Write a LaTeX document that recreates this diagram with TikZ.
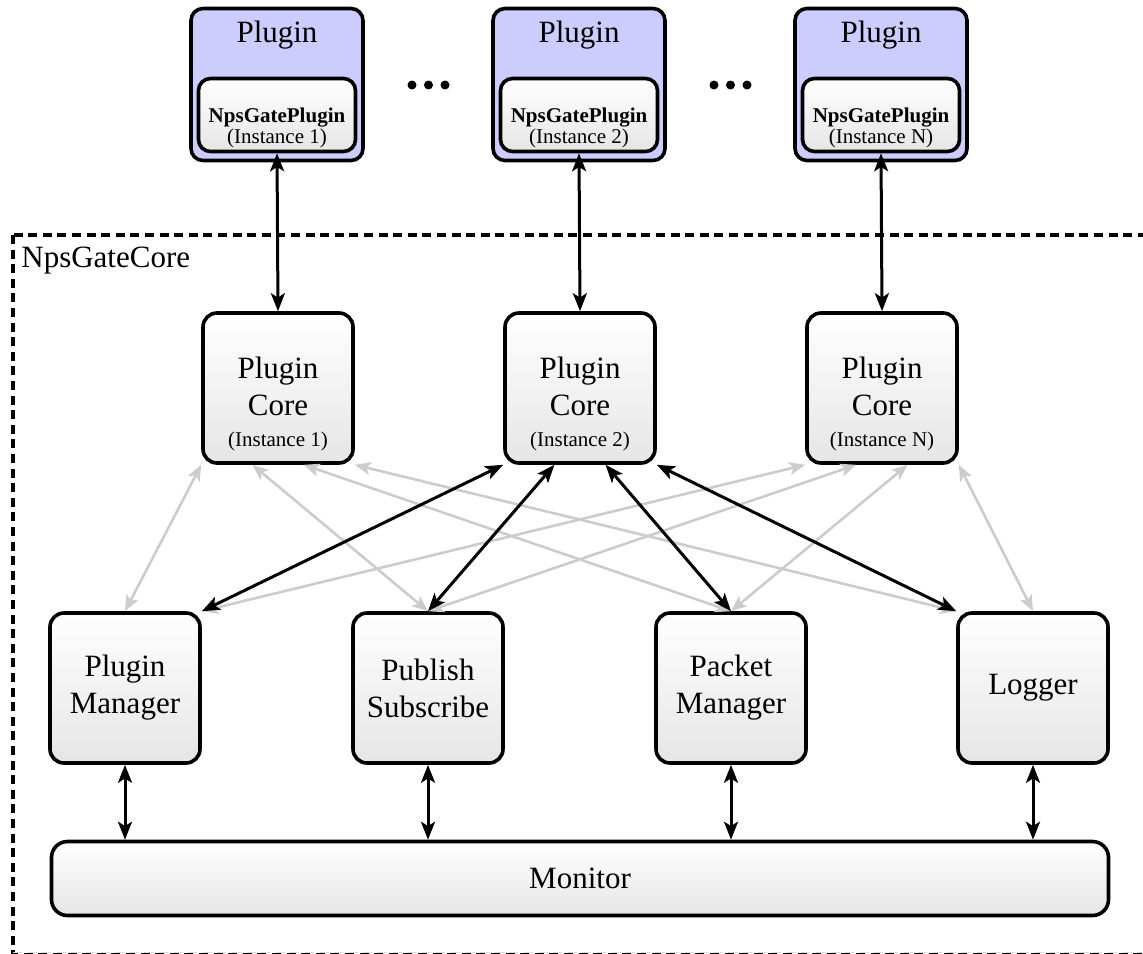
\documentclass[tikz,border=0pt]{standalone}
\usepackage{fontspec}
\setmainfont{Liberation Serif}
\usetikzlibrary{arrows.meta,calc}
\newcommand\mysizeA{\fontsize{15.5}{18.5}\selectfont}
\newcommand\mysizeB{\fontsize{10.5}{12.6}\selectfont}
\begin{document}
\begin{tikzpicture}[x=0.5pt,y=-0.5pt,
  box/.style={draw,line width=1.8pt,rounded corners=7pt,top color=white,bottom color=black!10,
    minimum width=75pt,minimum height=75pt,inner sep=0pt,align=center,font=\mysizeA},
  plugbox/.style={draw,line width=1.8pt,rounded corners=6pt,fill=blue!20,
    minimum width=86pt,minimum height=76pt,inner sep=0pt},
  innerbox/.style={draw,line width=1.8pt,rounded corners=6pt,top color=white,bottom color=black!10,
    minimum width=78.5pt,minimum height=36.5pt,inner sep=0pt},
  monbox/.style={draw,line width=1.8pt,rounded corners=8pt,top color=white,bottom color=black!10,
    minimum width=528.5pt,minimum height=37pt,inner sep=0pt,font=\mysizeA},
  txt/.style={inner sep=0pt,anchor=base,font=\mysizeA},
  stxt/.style={inner sep=0pt,anchor=base,font=\mysizeB},
  dotc/.style={fill=black,circle,inner sep=0pt,minimum size=4.5pt},
  blk/.style={line width=1.5pt,{Stealth[length=9pt,width=7pt,inset=2.2pt]}-{Stealth[length=9pt,width=7pt,inset=2.2pt]}},
  gry/.style={line width=1.3pt,draw=black!20,{Stealth[length=8pt,width=6.5pt,inset=2pt]}-{Stealth[length=8pt,width=6.5pt,inset=2pt]}},
  corebox/.style={draw,line width=1.6pt,dash pattern=on 4.5pt off 2.8pt}
]
\useasboundingbox (0,0) rectangle (1143,953);
\clip (0,0) rectangle (1143,953);

% core dashed region
\draw[corebox] (13,235) rectangle (1160,954.3);
\draw[draw=black!15,line width=0.5pt,dash pattern=on 4.5pt off 2.8pt] (13,952.5) -- (1160,952.5);
\node[inner sep=0pt,anchor=base west,font=\mysizeA] (coreLbl) at (21,267) {NpsGateCore};

% top plugins
\foreach \i/\x/\lab in {1/277/1,2/579/2,N/881/N}{
  \node[plugbox] (po\i) at (\x,84.5) {};
  \node[txt] (pt\i) at (\x,42) {Plugin};
  \node[innerbox] (pi\i) at (\x,115) {};
  \node[stxt,font=\mysizeB\bfseries] (pn\i) at (\x,122) {NpsGatePlugin};
  \node[stxt] (pinst\i) at (\x,143) {(Instance \lab)};
}
\foreach \k/\x in {a/412,b/428.5,c/445,d/714,e/730.5,f/747}{
  \node[dotc] (dot\k) at (\x,85) {};
}

% plugin cores
\foreach \i/\x/\lab in {1/278/1,2/580/2,N/882/N}{
  \node[box] (c\i) at (\x,388) {};
  \node[txt] (ct\i a) at (\x,378) {Plugin};
  \node[txt] (ct\i b) at (\x,415) {Core};
  \node[stxt] (ct\i c) at (\x,446) {(Instance \lab)};
  \coordinate (c\i-a) at (c\i.south west);
  \coordinate (c\i-b) at ($(c\i.south west)!1/3!(c\i.south east)$);
  \coordinate (c\i-c) at ($(c\i.south west)!2/3!(c\i.south east)$);
  \coordinate (c\i-d) at (c\i.south east);
  \draw[blk] (pi\i.south) -- (c\i.north);
}

% modules
\node[box] (pm) at (125,688) {Plugin\\Manager};
\node[box] (ps) at (428,688) {Publish\\Subscribe};
\node[box] (pk) at (731,688) {Packet\\Manager};
\node[box] (lg) at (1033,688) {Logger};
\node[monbox] (mon) at (580,878.5) {Monitor};

% grey connectors
\draw[gry] (c1-a) -- (pm.north);
\draw[gry] (c1-b) -- (ps.north);
\draw[gry] (c1-c) -- (pk.north);
\draw[gry] (c1-d) -- (lg.north west);
\draw[gry] (cN-a) -- (pm.north east);
\draw[gry] (cN-b) -- (ps.north);
\draw[gry] (cN-c) -- (pk.north);
\draw[gry] (cN-d) -- (lg.north);
% black connectors
\draw[blk] (c2-a) -- (pm.north east);
\draw[blk] (c2-b) -- (ps.north);
\draw[blk] (c2-c) -- (pk.north);
\draw[blk] (c2-d) -- (lg.north west);

% to monitor
\foreach \m in {pm,ps,pk,lg}{
  \draw[blk] (\m.south) -- (\m.south |- mon.north);
}
\end{tikzpicture}
\end{document}
